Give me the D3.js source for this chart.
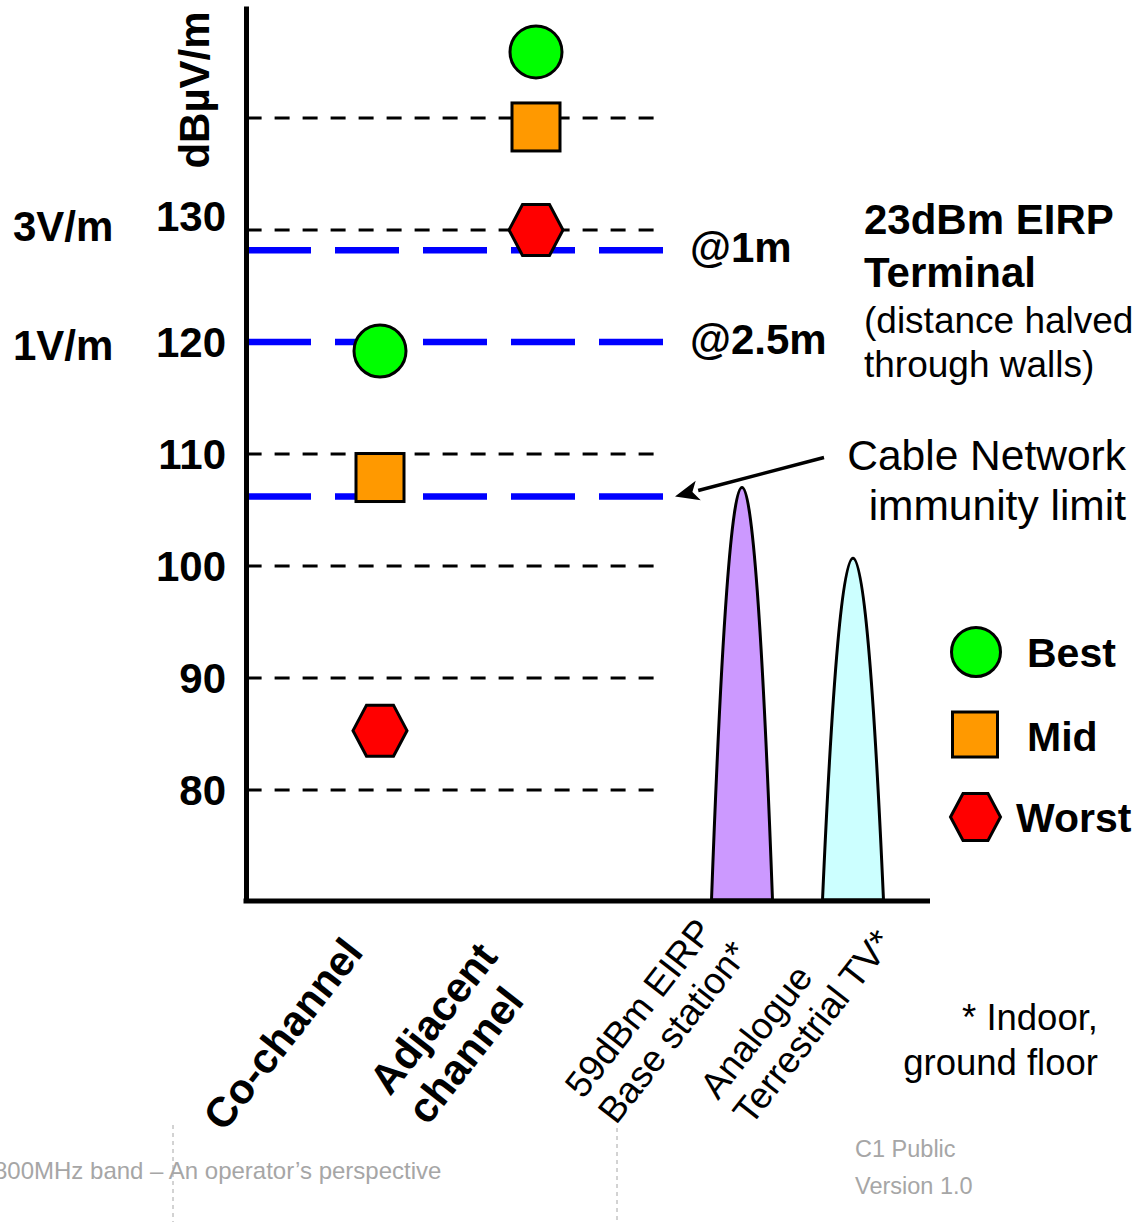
<!DOCTYPE html>
<html><head><meta charset="utf-8">
<script src="https://cdn.jsdelivr.net/npm/d3@7"></script>
<style>
html,body{margin:0;padding:0;background:#fff;}
svg{display:block;font-family:"Liberation Sans",Arial,Helvetica,sans-serif;}
</style></head><body>
<svg id="chart" width="1140" height="1222"></svg>
<script>
// ---------------- data ----------------
const markerCategories = ["Co-channel", "Adjacent channel"];
const bestValues  = [119.2, 145.9];
const midValues   = [107.9, 139.2];
const worstValues = [85.3, 130.0];

const peakCategories = ["59dBm EIRP Base station*", "Analogue Terrestrial TV*"];
const peakValues = [107.0, 100.7];
const peakColors = ["#CC99FF", "#CCFFFF"];

const gridValues = [80, 90, 100, 110, 130, 140];
const tickValues = [80, 90, 100, 110, 120, 130];
const limitValues = [128.2, 120, 106.2];
const limitLabels = ["@1m", "@2.5m", ""];
const fieldLabels = ["3V/m", "1V/m"];
const fieldValues = [130, 120];

const categoryLabelLines = [["Co-channel"], ["Adjacent", "channel"], ["59dBm EIRP", "Base station*"], ["Analogue", "Terrestrial TV*"]];
const legendLabels = ["Best", "Mid", "Worst"];

// ---------------- drawing ----------------
const svg = d3.select("#chart");
const y = d3.scaleLinear().domain([70, 150]).range([902, 6]);
const xMarks = d3.scalePoint().domain(markerCategories).range([380, 536]);
const xPeaks = d3.scalePoint().domain(peakCategories).range([742, 853]);
const axisX = 246;

const GREEN = "#00FF00", ORANGE = "#FF9900", RED = "#FF0000", BLUE = "#0000FF";
const BOLD = 42;

// grid lines (black dashed)
svg.append("g").selectAll("line").data(gridValues).join("line")
  .attr("x1", axisX + 0.6).attr("x2", 655)
  .attr("y1", d => y(d)).attr("y2", d => y(d))
  .attr("stroke", "#000").attr("stroke-width", 3.2)
  .attr("stroke-dasharray", "15,13");

// blue limit lines
svg.append("g").selectAll("line").data(limitValues).join("line")
  .attr("x1", 247).attr("x2", 666)
  .attr("y1", d => y(d)).attr("y2", d => y(d))
  .attr("stroke", BLUE).attr("stroke-width", 6.5)
  .attr("stroke-dasharray", "64,24");

svg.append("g").selectAll("text").data(limitLabels).join("text")
  .attr("x", 690).attr("y", (d, i) => y(limitValues[i]) + 12)
  .attr("font-size", BOLD).attr("font-weight", "bold").text(d => d);

// peaks
const peakBase = 900;
svg.append("g").selectAll("path").data(peakValues).join("path")
  .attr("d", (d, i) => {
    const c = xPeaks(peakCategories[i]), hw = 30.5;
    const ctrl = 2 * y(d) - peakBase;
    return `M${c - hw},${peakBase} Q${c},${ctrl} ${c + hw},${peakBase} Z`;
  })
  .attr("fill", (d, i) => peakColors[i]).attr("stroke", "#000").attr("stroke-width", 3);

// axes
const yAxis = d3.axisLeft(y).tickValues(tickValues).tickSize(0).tickSizeOuter(0).tickPadding(20);
const gy = svg.append("g").attr("transform", `translate(${axisX},0)`).call(yAxis);
gy.select(".domain").attr("stroke", "#000").attr("stroke-width", 5);
gy.selectAll(".tick text").attr("font-size", BOLD).attr("font-weight", "bold")
  .attr("font-family", "'Liberation Sans',Arial,sans-serif").attr("fill", "#000")
  .attr("dy", d => d === 130 ? "0.0em" : "0.35em");

svg.append("line").attr("x1", axisX - 2.5).attr("x2", 930)
  .attr("y1", 901).attr("y2", 901).attr("stroke", "#000").attr("stroke-width", 5);

// y axis title
svg.append("text").attr("transform", "translate(209,90) rotate(-90)")
  .attr("text-anchor", "middle").attr("font-size", BOLD).attr("font-weight", "bold").text("dBµV/m");

// field strength labels
svg.append("g").selectAll("text").data(fieldLabels).join("text")
  .attr("x", 13).attr("y", (d, i) => y(fieldValues[i]) + (i === 0 ? 11 : 18))
  .attr("font-size", BOLD).attr("font-weight", "bold").text(d => d);

// marker shapes
function hexPoints(cx, cy, hw, hh) {
  const t = hw * 0.5;
  return [[cx - hw, cy], [cx - t, cy - hh], [cx + t, cy - hh], [cx + hw, cy], [cx + t, cy + hh], [cx - t, cy + hh]]
    .map(p => p.join(",")).join(" ");
}
const gm = svg.append("g");
gm.selectAll("circle").data(bestValues).join("circle")
  .attr("cx", (d, i) => xMarks(markerCategories[i])).attr("cy", d => y(d)).attr("r", 26)
  .attr("fill", GREEN).attr("stroke", "#000").attr("stroke-width", 3);
gm.selectAll("rect").data(midValues).join("rect")
  .attr("x", (d, i) => xMarks(markerCategories[i]) - 24).attr("y", d => y(d) - 24)
  .attr("width", 48).attr("height", 48)
  .attr("fill", ORANGE).attr("stroke", "#000").attr("stroke-width", 3);
gm.selectAll("polygon").data(worstValues).join("polygon")
  .attr("points", (d, i) => hexPoints(xMarks(markerCategories[i]), y(d), 27, 25.5))
  .attr("fill", RED).attr("stroke", "#000").attr("stroke-width", 3);

// annotation text right
const tr = svg.append("g");
tr.append("text").attr("x", 864).attr("y", 234).attr("font-size", 42).attr("font-weight", "bold").text("23dBm EIRP");
tr.append("text").attr("x", 864).attr("y", 287).attr("font-size", 42).attr("font-weight", "bold").text("Terminal");
tr.append("text").attr("x", 864).attr("y", 333).attr("font-size", 37).text("(distance halved");
tr.append("text").attr("x", 864).attr("y", 377).attr("font-size", 37).text("through walls)");

tr.append("text").attr("x", 1126).attr("y", 470).attr("text-anchor", "end").attr("font-size", 42.5).text("Cable Network");
tr.append("text").attr("x", 1126).attr("y", 520).attr("text-anchor", "end").attr("font-size", 42.5).text("immunity limit");

// arrow
const tipY = y(limitValues[2]);
const tipX = 675;
const sx = 824, sy = tipY - 39;
const ang = Math.atan2(sy - tipY, sx - tipX);
const aLen = 24, aW = 10;
const bx = tipX + aLen * Math.cos(ang), by = tipY + aLen * Math.sin(ang);
svg.append("line").attr("x1", sx).attr("y1", sy).attr("x2", bx).attr("y2", by)
  .attr("stroke", "#000").attr("stroke-width", 3.5);
svg.append("polygon").attr("points", [
  [tipX, tipY],
  [bx + aW * Math.sin(ang), by - aW * Math.cos(ang)],
  [tipX + (aLen - 6) * Math.cos(ang), tipY + (aLen - 6) * Math.sin(ang)],
  [bx - aW * Math.sin(ang), by + aW * Math.cos(ang)]
].map(p => p.join(",")).join(" ")).attr("fill", "#000");

// legend
const lg = svg.append("g");
lg.append("circle").attr("cx", 976).attr("cy", 652).attr("r", 24.5)
  .attr("fill", GREEN).attr("stroke", "#000").attr("stroke-width", 3);
lg.append("rect").attr("x", 952.5).attr("y", 712).attr("width", 45).attr("height", 45)
  .attr("fill", ORANGE).attr("stroke", "#000").attr("stroke-width", 3);
lg.append("polygon").attr("points", hexPoints(975.5, 817, 25, 23.5))
  .attr("fill", RED).attr("stroke", "#000").attr("stroke-width", 3);
const legendY = [667, 751, 832];
const legendX = [1027, 1027, 1016];
lg.selectAll("text").data(legendLabels).join("text")
  .attr("x", (d, i) => legendX[i]).attr("y", (d, i) => legendY[i])
  .attr("font-size", 41).attr("font-weight", "bold").text(d => d);

// category labels (rotated)
const labelStarts = [
  [xMarks(markerCategories[0]) - 156, 1133],
  [xMarks(markerCategories[1]) - 146, 1097],
  [xPeaks(peakCategories[0]) - 159, 1100],
  [xPeaks(peakCategories[1]) - 135, 1101]
];
const labelBold = [true, true, false, false];
const gl = svg.append("g");
categoryLabelLines.forEach((lines, i) => {
  const t = gl.append("text")
    .attr("transform", `translate(${labelStarts[i][0]},${labelStarts[i][1]}) rotate(-52)`)
    .attr("font-size", labelBold[i] ? 42 : 37)
    .attr("font-weight", labelBold[i] ? "bold" : "normal");
  lines.forEach((ln, j) => {
    t.append("tspan").attr("x", 0).attr("dy", j === 0 ? 0 : (labelBold[i] ? 48 : 42)).text(ln);
  });
});

// footnote
svg.append("text").attr("x", 1098).attr("y", 1030).attr("text-anchor", "end").attr("font-size", 36.5).text("* Indoor,");
svg.append("text").attr("x", 1098).attr("y", 1075).attr("text-anchor", "end").attr("font-size", 36.5).text("ground floor");

// footer
const GRAY = "#A6A6A6";
svg.append("line").attr("x1", 173).attr("x2", 173).attr("y1", 1125).attr("y2", 1222)
  .attr("stroke", GRAY).attr("stroke-width", 1).attr("stroke-dasharray", "4,4");
svg.append("line").attr("x1", 617).attr("x2", 617).attr("y1", 1128).attr("y2", 1222)
  .attr("stroke", GRAY).attr("stroke-width", 1).attr("stroke-dasharray", "4,4");
svg.append("text").attr("x", -6).attr("y", 1179).attr("font-size", 24).attr("fill", GRAY)
  .text("800MHz band \u2013 An operator\u2019s perspective");
svg.append("text").attr("x", 855).attr("y", 1157).attr("font-size", 23.5).attr("fill", GRAY).text("C1 Public");
svg.append("text").attr("x", 855).attr("y", 1194).attr("font-size", 23.5).attr("fill", GRAY).text("Version 1.0");
</script>
</body></html>
